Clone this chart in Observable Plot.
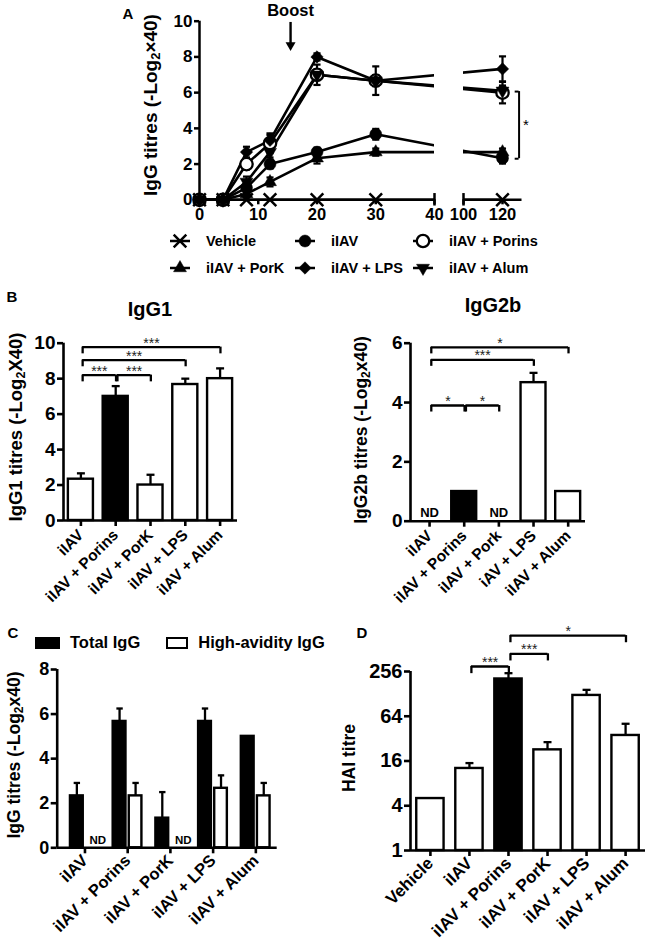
<!DOCTYPE html>
<html><head><meta charset="utf-8">
<script src="https://cdn.jsdelivr.net/npm/d3@7"></script>
<script src="https://cdn.jsdelivr.net/npm/@observablehq/plot@0.6"></script>
<style>
body{margin:0;background:#fff;}
#root{position:relative;width:649px;height:949px;overflow:hidden;font-family:"Liberation Sans",Arial,Helvetica,sans-serif;font-weight:bold;color:#000;}
#root sub{font-size:0.68em;line-height:0;vertical-align:-0.25em;}
</style></head><body><div id="root"></div>
<script>
// ---------------- DATA ----------------
// Panel A: IgG titres over time
const daysA = [0, 4, 8, 12, 20, 30, 120];
const groupsA = ["Vehicle", "iIAV", "iIAV + Porins", "iIAV + PorK", "iIAV + LPS", "iIAV + Alum"];
const vehicleA = [0, 0, 0, 0, 0, 0, 0];
const iiavA    = [0, 0, 0.67, 2.0, 2.67, 3.67, 2.33];
const porinsA  = [0, 0, 2.0, 3.17, 7.0, 6.67, 6.0];
const porkA    = [0, 0, 0.33, 1.0, 2.33, 2.67, 2.67];
const lpsA     = [0, 0, 2.67, 3.33, 8.0, 6.67, 7.33];
const alumA    = [0, 0, 1.0, 2.67, 7.0, 6.67, 6.1];
const vehicleErrA = [0, 0, 0, 0, 0, 0, 0];
const iiavErrA    = [0, 0, 0.2, 0.25, 0.25, 0.3, 0.3];
const porinsErrA  = [0, 0, 0.3, 0.55, 0.57, 0.3, 0.6];
const porkErrA    = [0, 0, 0.2, 0.25, 0.3, 0.2, 0.2];
const lpsErrA     = [0, 0, 0.3, 0.3, 0.2, 0.8, 0.7];
const alumErrA    = [0, 0, 0.3, 0.3, 0.3, 0.3, 0.3];
const xTicksA = [0, 10, 20, 30, 40, 100, 120];
const yTicksA = [0, 2, 4, 6, 8, 10];
const axisBreakA = [40, 100];
const boostA = [{day: 15.5, label: "Boost"}];
const sigA = [{x: 128.5, from: 6.06, to: 2.3, label: "*"}];

// Panel B: IgG1 / IgG2b
const groupsB1 = ["iIAV", "iIAV + Porins", "iIAV + PorK", "iIAV + LPS", "iIAV + Alum"];
const igg1     = [2.33, 7.0, 2.0, 7.67, 8.0];
const igg1Err  = [0.33, 0.58, 0.58, 0.33, 0.58];
const fillB    = ["white", "black", "white", "white", "white"];
const igg1Sig  = [{a: 0, b: 1, y: 8.2, label: "***"}, {a: 1, b: 2, y: 8.2, label: "***"},
                  {a: 0, b: 3, y: 9.05, label: "***"}, {a: 0, b: 4, y: 9.78, label: "***"}];
const yTicksB1 = [0, 2, 4, 6, 8, 10];

const groupsB2 = ["iIAV", "iIAV + Porins", "iIAV + Pork", "iAV + LPS", "iIAV + Alum"];
const igg2b    = [null, 1.0, null, 4.67, 1.0];
const igg2bErr = [0, 0, 0, 0.33, 0];
const igg2bSig = [{a: 0, b: 1, y: 3.9, label: "*"}, {a: 1, b: 2, y: 3.9, label: "*"},
                  {a: 0, b: 3, y: 5.44, label: "***"}, {a: 0, b: 4, y: 5.86, label: "*"}];
const yTicksB2 = [0, 2, 4, 6];

// Panel C: total vs high-avidity IgG
const groupsC = ["iIAV", "iIAV + Porins", "iIAV + PorK", "iIAV + LPS", "iIAV + Alum"];
const seriesC = ["Total IgG", "High-avidity IgG"];
const totalIgG     = [2.33, 5.67, 1.33, 5.67, 5.0];
const totalIgGErr  = [0.58, 0.58, 1.17, 0.58, 0];
const highAvIgG    = [null, 2.33, null, 2.67, 2.33];
const highAvIgGErr = [0, 0.58, 0, 0.58, 0.58];
const yTicksC = [0, 2, 4, 6, 8];

// Panel D: HAI titre (log2 axis)
const groupsD = ["Vehicle", "iIAV", "iIAV + Porins", "iIAV + PorK", "iIAV + LPS", "iIAV + Alum"];
const haiTitre = [5, 12.7, 203, 22.6, 122, 35.3];
const haiUpper = [5, 15, 243, 28.7, 145, 50.7];
const fillD    = ["white", "white", "black", "white", "white", "white"];
const haiSig   = [{a: 1, b: 2, y: 299, label: "***"}, {a: 2, b: 3, y: 443, label: "***"},
                  {a: 2, b: 5, y: 779, label: "*"}];
const yTicksD = [1, 4, 16, 64, 256];

// ---------------- HELPERS ----------------
const FONT = '"Liberation Sans", Arial, Helvetica, sans-serif';
const baseStyle = {fontFamily: FONT, fontWeight: "bold", color: "black", background: "transparent", overflow: "visible"};
const root = document.getElementById("root");
function put(node, left, top) {
  node.style.position = "absolute"; node.style.left = left + "px"; node.style.top = top + "px";
  root.appendChild(node);
}
function txt(html, x, y, size, rot) {
  const d = document.createElement("div");
  d.innerHTML = html;
  d.style.cssText = `position:absolute;left:${x}px;top:${y}px;font-size:${size}px;white-space:nowrap;line-height:1;transform:translate(-50%,-50%)${rot ? " rotate(-90deg)" : ""};`;
  root.appendChild(d);
}
const sqrt3 = Math.sqrt(3);
const downTri = {draw(ctx, size) {
  const y = -Math.sqrt(size / (sqrt3 * 3));
  ctx.moveTo(0, -2 * y); ctx.lineTo(-sqrt3 * y, y); ctx.lineTo(sqrt3 * y, y); ctx.closePath();
}};
const hline = {draw(ctx, size) { const w = Math.sqrt(size) / 2; ctx.moveTo(-w, 0); ctx.lineTo(w, 0); }};

const symA = {
  "Vehicle":       {symbol: "times",    fill: "none",  stroke: "black", r: 5.8, sw: 2.5},
  "iIAV":          {symbol: "circle",   fill: "black", stroke: "black", r: 6.0, sw: 0.5},
  "iIAV + Porins": {symbol: "circle",   fill: "white", stroke: "black", r: 6.2, sw: 2.3},
  "iIAV + PorK":   {symbol: "triangle", fill: "black", stroke: "black", r: 4.8, sw: 0.5},
  "iIAV + LPS":    {symbol: "diamond2", fill: "black", stroke: "black", r: 5.6, sw: 0.5},
  "iIAV + Alum":   {symbol: downTri,    fill: "black", stroke: "black", r: 4.8, sw: 0.5}
};

// ---------------- PANEL A ----------------
const valsA = [vehicleA, iiavA, porinsA, porkA, lpsA, alumA];
const errsA = [vehicleErrA, iiavErrA, porinsErrA, porkErrA, lpsErrA, alumErrA];
const tidyA = [];
groupsA.forEach((g, k) => daysA.forEach((d, j) => tidyA.push({series: g, day: d, v: valsA[k][j], e: errsA[k][j]})));
const errA = tidyA.filter(d => d.e > 0);

const plotA = Plot.plot({
  width: 420, height: 240, marginLeft: 79, marginRight: 18.5, marginTop: 20.7, marginBottom: 40.7,
  style: baseStyle,
  x: {type: "linear", domain: [0, axisBreakA[0], axisBreakA[1], 130], range: [79, 314, 343, 401.5]},
  y: {domain: [0, 10]},
  marks: [
    Plot.line(tidyA, {x: "day", y: "v", z: "series", stroke: "black", strokeWidth: 2.6}),
    Plot.rect([axisBreakA], {x1: d => d[0], x2: d => d[1], y1: -0.6, y2: 10.4, fill: "white"}),
    Plot.ruleX([0], {y1: 0, y2: 10, strokeWidth: 2.5}),
    Plot.ruleY([[0, axisBreakA[0]], [axisBreakA[1], 130]], {x1: d => d[0], x2: d => d[1], y: 0, strokeWidth: 2.5}),
    Plot.ruleX(axisBreakA, {y1: -0.35, y2: 0.35, strokeWidth: 2.5}),
    Plot.axisY({ticks: yTicksA, tickSize: 5, tickPadding: 2, fontSize: 17, strokeWidth: 2.5, label: null}),
    Plot.axisX({ticks: xTicksA, tickSize: 5, tickPadding: 3, fontSize: 16.5, strokeWidth: 2.5, label: null}),
    Plot.ruleX(errA, {x: "day", y1: d => d.v - d.e, y2: d => d.v + d.e, strokeWidth: 2.2}),
    Plot.dot(errA, {x: "day", y: d => d.v + d.e, symbol: hline, r: 4, stroke: "black", strokeWidth: 2.2}),
    Plot.dot(errA, {x: "day", y: d => d.v - d.e, symbol: hline, r: 4, stroke: "black", strokeWidth: 2.2}),
    ...groupsA.map(g => Plot.dot(tidyA.filter(d => d.series === g), {
      x: "day", y: "v", symbol: symA[g].symbol, r: symA[g].r, fill: symA[g].fill, stroke: symA[g].stroke, strokeWidth: symA[g].sw
    })),
    // boost arrow
    Plot.text(boostA, {x: "day", y: 10.6, text: "label", fontSize: 16.5}),
    Plot.ruleX(boostA, {x: "day", y1: 9.93, y2: 8.7, strokeWidth: 2.4}),
    Plot.dot(boostA, {x: "day", y: 8.66, symbol: downTri, r: 3.7, fill: "black"}),
    // significance bracket
    Plot.ruleX(sigA, {x: "x", y1: "from", y2: "to", strokeWidth: 2}),
    Plot.ruleY(sigA, {x1: d => d.x - 2, x2: "x", y: "from", strokeWidth: 2}),
    Plot.ruleY(sigA, {x1: d => d.x - 2, x2: "x", y: "to", strokeWidth: 2}),
    Plot.text(sigA, {x: d => d.x + 3.5, y: d => (d.from + d.to) / 2, text: "label", fontSize: 15, fontWeight: "normal"})
  ]
});
put(plotA, 120, 0);
txt("A", 128, 13, 15);
txt("IgG titres (-Log<sub>2</sub>×40)", 150, 105, 19, true);

// legend A
const legend = document.createElement("div");
legend.style.cssText = "display:grid;grid-template-columns:125px 118px 130px;grid-auto-rows:27.5px;align-items:center;font-size:14.5px;";
groupsA.forEach(g => {
  const s = symA[g];
  const item = document.createElement("div");
  item.style.cssText = "display:flex;align-items:center;";
  const type = typeof s.symbol === "string"
    ? {times: d3.symbolTimes, circle: d3.symbolCircle, triangle: d3.symbolTriangle, diamond2: d3.symbolDiamond2}[s.symbol]
    : s.symbol;
  const path = d3.symbol(type, s.r * s.r * Math.PI)();
  item.innerHTML = `<svg width="28" height="18" style="overflow:visible"><line x1="4" x2="24" y1="9" y2="9" stroke="black" stroke-width="2.5"/>` +
    `<path transform="translate(14,9)" d="${path}" fill="${s.fill}" stroke="${s.stroke}" stroke-width="${s.sw}"/></svg>` +
    `<span style="margin-left:12px">${g}</span>`;
  legend.appendChild(item);
});
put(legend, 166, 227);

// ---------------- BAR CHART HELPER ----------------
// c.ty maps a raw value to the plotted (linear) position; identity, or log2 for panel D
function barPlot(c) {
  const ty = c.ty || (v => v);
  const base = c.base ?? 0;
  const withErr = c.bars.filter(d => d.v != null && d.top > d.v);
  const shown = c.bars.filter(d => d.v != null);
  const sig = c.sig || [];
  return Plot.plot({
    width: c.width, height: c.height,
    marginLeft: c.ml, marginRight: c.mr, marginTop: c.mt, marginBottom: c.mb,
    style: baseStyle,
    x: {type: "linear", domain: c.xdomain},
    y: {type: "linear", domain: c.ydomain.map(ty)},
    marks: [
      Plot.ruleX(withErr, {x: "x", y1: d => ty(d.v), y2: d => ty(d.top), strokeWidth: 2.3}),
      Plot.dot(withErr, {x: "x", y: d => ty(d.top), symbol: hline, r: c.capR, stroke: "black", strokeWidth: 2.3}),
      Plot.rect(shown, {x1: d => d.x - d.hw, x2: d => d.x + d.hw, y1: ty(base), y2: d => ty(d.v), fill: "fill", stroke: "black", strokeWidth: 2.4}),
      Plot.text(c.nd || [], {x: "x", y: ty(base), text: () => "ND", dy: c.ndDy, fontSize: c.ndFont}),
      Plot.ruleY(sig, {x1: d => d.a + 0.05, x2: d => d.b + 0.01, y: d => ty(d.y), strokeWidth: 2.3}),
      Plot.ruleX(sig, {x: d => d.a + 0.05, y1: d => ty(d.y), y2: d => ty(d.y) - c.tick, strokeWidth: 2.3}),
      Plot.ruleX(sig, {x: d => d.b + 0.01, y1: d => ty(d.y), y2: d => ty(d.y) - c.tick, strokeWidth: 2.3}),
      Plot.text(sig, {x: d => (d.a + d.b) / 2 + 0.03, y: d => ty(d.y), text: "label", dy: -4, fontSize: 14, fontWeight: "normal", fill: "#222"}),
      Plot.ruleX([c.xdomain[0]], {y1: ty(base), y2: ty(c.ydomain[1]), strokeWidth: 2.6}),
      Plot.ruleY([ty(base)], {x1: c.xdomain[0], x2: c.xdomain[1], strokeWidth: 2.6}),
      Plot.axisY({ticks: c.yticks.map(ty), tickFormat: (d, i) => String(c.yticks[i]), tickSize: 6, tickPadding: 2,
                  fontSize: c.yFont, strokeWidth: 2.6, label: null}),
      Plot.axisX({ticks: d3.range(c.labels.length), tickFormat: i => c.labels[i], tickRotate: -45,
                  tickSize: 6, tickPadding: c.xPad, fontSize: c.xFont, strokeWidth: 2.6, label: null})
    ]
  });
}

// ---------------- PANEL B ----------------
const plotB1 = barPlot({
  width: 330, height: 270, ml: 63, mr: 93, mt: 22.7, mb: 70,
  xdomain: [-0.5, 4.5], ydomain: [0, 10], yticks: yTicksB1, yFont: 19, xFont: 15.5, xPad: 6,
  labels: groupsB1, capR: 4.5, tick: 0.38,
  bars: igg1.map((v, i) => ({x: i, v, top: v + igg1Err[i], fill: fillB[i], hw: 0.36})),
  sig: igg1Sig
});
put(plotB1, 0, 320);
txt("B", 12, 296, 15);
txt("IgG1", 150, 309, 20);
txt("IgG1 titres (-Log<sub>2</sub>X40)", 16, 427, 18.5, true);

const plotB2 = barPlot({
  width: 319, height: 270, ml: 80, mr: 64, mt: 22.7, mb: 69.3,
  xdomain: [-0.55, 4.5], ydomain: [0, 6], yticks: yTicksB2, yFont: 19, xFont: 15.5, xPad: 6,
  labels: groupsB2, capR: 4.5, tick: 0.22,
  bars: igg2b.map((v, i) => ({x: i, v, top: v == null ? null : v + igg2bErr[i], fill: fillB[i], hw: 0.36})),
  nd: igg2b.map((v, i) => ({x: i, v})).filter(d => d.v == null), ndDy: -8, ndFont: 13,
  sig: igg2bSig
});
put(plotB2, 330, 320);
txt("IgG2b", 493, 305, 20);
txt("IgG2b titres (-Log<sub>2</sub>x40)", 362, 430, 17.5, true);

// ---------------- PANEL C ----------------
const barsC = [];
groupsC.forEach((g, i) => {
  barsC.push({x: i - 0.19, v: totalIgG[i], top: totalIgG[i] + totalIgGErr[i], fill: "black", hw: 0.15});
  barsC.push({x: i + 0.185, v: highAvIgG[i], top: highAvIgG[i] == null ? null : highAvIgG[i] + highAvIgGErr[i], fill: "white", hw: 0.148});
});
const plotC = barPlot({
  width: 330, height: 294, ml: 56.7, mr: 53.3, mt: 14, mb: 101.7,
  xdomain: [-0.65, 4.5], ydomain: [0, 8], yticks: yTicksC, yFont: 18, xFont: 16.5, xPad: 4,
  labels: groupsC, capR: 3.6, tick: 0.3,
  bars: barsC,
  nd: highAvIgG.map((v, i) => ({x: i + 0.3, v})).filter(d => d.v == null), ndDy: -7, ndFont: 11.5
});
put(plotC, 0, 655);
txt("C", 13, 632, 15);
txt("IgG titres (-Log<sub>2</sub>x40)", 15, 755, 17.5, true);
const legC = document.createElement("div");
legC.style.cssText = "display:flex;align-items:center;font-size:16.5px;";
legC.innerHTML = seriesC.map((s, k) =>
  `<span style="display:inline-block;box-sizing:border-box;width:${k ? 22 : 25}px;height:12px;background:${k ? "white" : "black"};border:2px solid black;"></span>` +
  `<span style="margin-left:10px;margin-right:${k ? 0 : 26}px">${s}</span>`).join("");
put(legC, 35, 633);

// ---------------- PANEL D ----------------
const plotD = barPlot({
  width: 319, height: 339, ml: 80, mr: 4, mt: 61, mb: 99,
  xdomain: [-0.51, 5.51], ydomain: [1, 256], base: 1, ty: Math.log2, yticks: yTicksD, yFont: 20, xFont: 17, xPad: 4,
  labels: groupsD, capR: 4.5, tick: 0.32,
  bars: haiTitre.map((v, i) => ({x: i, v, top: haiUpper[i], fill: fillD[i], hw: 0.35})),
  sig: haiSig
});
put(plotD, 330, 610);
txt("D", 362, 632, 15);
txt("HAI titre", 350, 758, 17.5, true);
</script></body></html>
